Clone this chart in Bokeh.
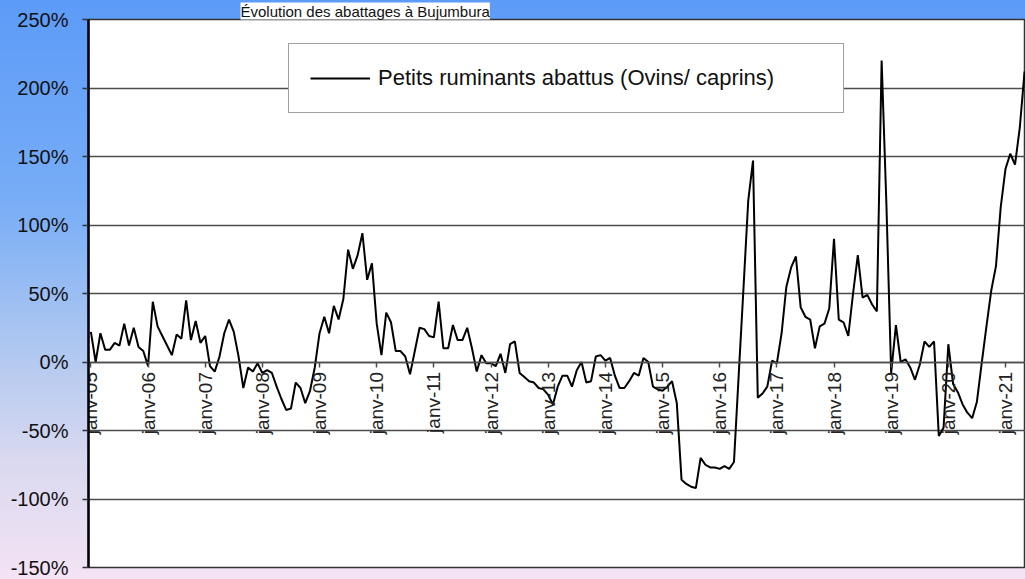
from bokeh.plotting import figure
from bokeh.models import (FixedTicker, PrintfTickFormatter, Legend, LegendItem,
                          Range1d, ColumnDataSource, LinearAxis)
from bokeh.embed import file_html
from bokeh.resources import INLINE

title_text = "Évolution des abattages à Bujumbura"
series_name = "Petits ruminants abattus (Ovins/ caprins)"

tick_labels = ["janv-05", "janv-06", "janv-07", "janv-08", "janv-09", "janv-10",
               "janv-11", "janv-12", "janv-13", "janv-14", "janv-15", "janv-16",
               "janv-17", "janv-18", "janv-19", "janv-20", "janv-21"]

y_ticks = [-150, -100, -50, 0, 50, 100, 150, 200, 250]

# monthly variation (%), from janv-05 onwards
pct_values = [
    22, 0, 21, 9, 9, 14, 12, 28, 12, 25, 11, 8,            # 2005
    -3, 44, 26, 19, 12, 5, 20, 17, 45, 16, 30, 14,         # 2006
    19, -3, -7, 4, 21, 31, 22, 4, -19, -4, -7, -1,         # 2007
    -8, -6, -8, -18, -27, -35, -34, -15, -19, -30, -21, -4,  # 2008
    21, 33, 21, 41, 31, 46, 82, 68, 78, 94, 60, 72,        # 2009
    28, 5, 36, 29, 8, 8, 4, -9, 8, 25, 24, 19,             # 2010
    18, 44, 10, 10, 27, 16, 16, 25, 10, -7, 5, -1,         # 2011
    -1, -3, 6, -8, 13, 15, -8, -11, -14, -15, -19, -20,    # 2012
    -24, -31, -18, -10, -10, -18, -6, 0, -15, -14, 4, 5,   # 2013
    1, 3, -10, -19, -19, -14, -8, -10, 3, 0, -18, -20,     # 2014
    -21, -18, -14, -30, -86, -89, -91, -92, -70, -75, -77, -77,  # 2015
    -78, -76, -78, -73, -9, 54, 118, 147, -26, -23, -18, 1,      # 2016
    -1, 21, 55, 69, 77, 40, 33, 31, 10, 26, 28, 39,        # 2017
    90, 31, 29, 19, 50, 78, 47, 49, 42, 37, 220, 115,      # 2018
    -8, 27, 0, 2, -4, -13, -2, 15, 11, 15, -54, -48,       # 2019
    13, -16, -22, -31, -37, -41, -29, -1, 26, 52, 70, 113, # 2020
    141, 152, 144, 171, 212,                               # 2021
]

months = list(range(len(pct_values)))
tick_months = [12 * i for i in range(len(tick_labels))]

source = ColumnDataSource(data=dict(month=months, pct=pct_values))

p = figure(width=1025, height=579, output_backend="svg", toolbar_location=None,
           x_range=Range1d(-0.5, 196.2), y_range=Range1d(-150, 250),
           x_axis_location=None, y_axis_location="left",
           min_border_left=88, min_border_right=0, min_border_top=18,
           min_border_bottom=12)

p.border_fill_color = None
p.background_fill_color = "white"
p.styles = {"background": "linear-gradient(to bottom, #5c9bf8 0%, #78adf6 35%, "
                          "#b3c9f0 62%, #dad9f0 80%, #f4e3f4 100%)"}
p.outline_line_color = "#333333"
p.outline_line_width = 1.5

# title (box at the top, as in the original)
p.title.text = title_text
p.title.align = "left"
p.title.offset = 152
p.title.standoff = 0
p.title.text_font = "Liberation Sans"
p.title.text_font_size = "15px"
p.title.text_font_style = "normal"
p.title.text_color = "#111111"
p.title.background_fill_color = "white"

# y axis
p.yaxis.ticker = FixedTicker(ticks=y_ticks)
p.yaxis.formatter = PrintfTickFormatter(format="%d%%")
p.yaxis.axis_line_color = "black"
p.yaxis.axis_line_width = 2.5
p.yaxis.major_tick_line_color = "#333333"
p.yaxis.major_tick_line_width = 1.5
p.yaxis.major_tick_out = 6
p.yaxis.major_tick_in = 0
p.yaxis.minor_tick_line_color = None
p.yaxis.major_label_text_font = "Liberation Sans"
p.yaxis.major_label_text_font_size = "20px"
p.yaxis.major_label_text_color = "#111111"
p.yaxis.major_label_standoff = 14

p.ygrid.ticker = FixedTicker(ticks=y_ticks)
p.ygrid.grid_line_color = "#4d4d4d"
p.ygrid.grid_line_width = 1.5
p.xgrid.grid_line_color = None

# category axis crossing at 0 %
xaxis = LinearAxis(fixed_location=0)
xaxis.ticker = FixedTicker(ticks=tick_months)
xaxis.major_label_overrides = {m: lab for m, lab in zip(tick_months, tick_labels)}
xaxis.major_label_orientation = 1.5707963
xaxis.axis_line_color = "#4d4d4d"
xaxis.axis_line_width = 1.5
xaxis.major_tick_line_color = "#4d4d4d"
xaxis.major_tick_line_width = 1.5
xaxis.major_tick_out = 5
xaxis.major_tick_in = 0
xaxis.minor_tick_line_color = None
xaxis.major_label_text_font = "Liberation Sans"
xaxis.major_label_text_font_size = "19px"
xaxis.major_label_text_color = "#222222"
xaxis.major_label_standoff = 5
p.add_layout(xaxis, "below")

r = p.line("month", "pct", source=source, line_color="black", line_width=2)

legend = Legend(items=[LegendItem(label=series_name, renderers=[r])],
                location=(200, 454))
legend.label_text_font = "Liberation Sans"
legend.label_text_font_size = "22px"
legend.label_text_color = "#111111"
legend.border_line_color = "#444444"
legend.border_line_width = 1.5
legend.background_fill_color = "white"
legend.background_fill_alpha = 1.0
legend.padding = 21
legend.margin = 0
legend.glyph_width = 60
legend.label_standoff = 8
legend.label_height = 20
legend.label_width = 444
p.add_layout(legend, "center")

open("out.html", "w").write(file_html(p, INLINE))
